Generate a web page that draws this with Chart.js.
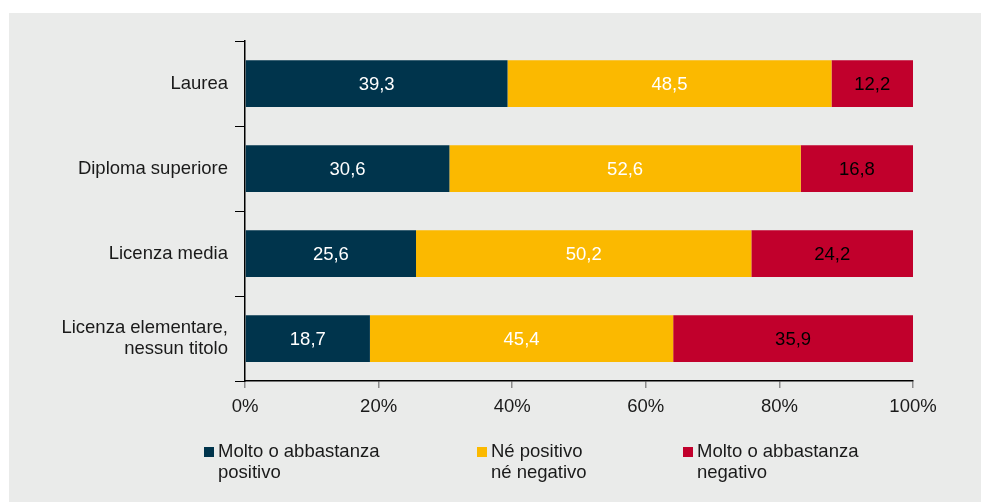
<!DOCTYPE html>
<html>
<head>
<meta charset="utf-8">
<script src="https://cdn.jsdelivr.net/npm/chart.js@4/dist/chart.umd.min.js"></script>
<style>
  html, body { margin: 0; padding: 0; background: #ffffff; }
  #wrap { position: relative; width: 981px; height: 502px; }
</style>
</head>
<body>
<div id="wrap"><canvas id="c" width="981" height="502"></canvas></div>
<script>
// Titolo di studio (categorie, dall'alto in basso)
const categories = [
  'Laurea',
  'Diploma superiore',
  'Licenza media',
  ['Licenza elementare,', 'nessun titolo']
];

// Giudizio, valori percentuali
const positivo = [39.3, 30.6, 25.6, 18.7];
const neutro   = [48.5, 52.6, 50.2, 45.4];
const negativo = [12.2, 16.8, 24.2, 35.9];

// Voci di legenda (su due righe)
const legendLabels = [
  ['Molto o abbastanza', 'positivo'],
  ['Né positivo', 'né negativo'],
  ['Molto o abbastanza', 'negativo']
];

const xTicks = [0, 20, 40, 60, 80, 100];

const colors = ['#00344c', '#fbb900', '#c1002c'];
const labelColors = ['#ffffff', '#ffffff', '#000000'];
const FONT = '"Liberation Sans", Arial, sans-serif';
const FS = 18.5;

// Sfondo grigio del riquadro
const panelBg = {
  id: 'panelBg',
  beforeDraw(chart) {
    const ctx = chart.ctx;
    ctx.save();
    ctx.fillStyle = '#eaebea';
    ctx.fillRect(9, 13, chart.width - 9, chart.height - 13);
    ctx.restore();
  }
};

// Valori scritti al centro di ogni segmento
const barValues = {
  id: 'barValues',
  afterDatasetsDraw(chart) {
    const ctx = chart.ctx;
    ctx.save();
    ctx.font = FS + 'px ' + FONT;
    ctx.textAlign = 'center';
    ctx.textBaseline = 'middle';
    chart.data.datasets.forEach((ds, di) => {
      const meta = chart.getDatasetMeta(di);
      meta.data.forEach((bar, i) => {
        const v = ds.data[i];
        const cx = (bar.x + bar.base) / 2;
        ctx.fillStyle = labelColors[di];
        ctx.fillText(v.toFixed(1).replace('.', ','), cx, bar.y + 1);
      });
    });
    ctx.restore();
  }
};

// Legenda in basso con etichette su due righe
const bottomLegend = {
  id: 'bottomLegend',
  afterDraw(chart) {
    const ctx = chart.ctx;
    const xs = [204, 477, 683];
    const y0 = 452;
    ctx.save();
    ctx.font = FS + 'px ' + FONT;
    ctx.textAlign = 'left';
    ctx.textBaseline = 'middle';
    chart.data.datasets.forEach((ds, di) => {
      const x = xs[di];
      ctx.fillStyle = ds.backgroundColor;
      ctx.fillRect(x, y0 - 5, 10, 10);
      ctx.fillStyle = '#1a1a1a';
      const lines = Array.isArray(ds.label) ? ds.label : [ds.label];
      lines.forEach((ln, k) => ctx.fillText(ln, x + 14, y0 + k * 21));
    });
    ctx.restore();
  }
};

const seriesValues = [positivo, neutro, negativo];

new Chart(document.getElementById('c'), {
  type: 'bar',
  data: {
    labels: categories,
    datasets: seriesValues.map((vals, i) => ({
      label: legendLabels[i],
      data: vals,
      backgroundColor: colors[i],
      borderWidth: 0,
      barPercentage: 0.55,
      categoryPercentage: 1.0
    }))
  },
  options: {
    indexAxis: 'y',
    responsive: false,
    animation: false,
    devicePixelRatio: 1,
    layout: { padding: { left: 0, top: 41, right: 68, bottom: 81 } },
    plugins: {
      legend: { display: false },
      tooltip: { enabled: false },
      title: { display: false }
    },
    scales: {
      x: {
        stacked: true,
        min: 0,
        max: 100,
        afterFit(scale) { scale.height = 40; },
        afterBuildTicks(scale) { scale.ticks = xTicks.map(v => ({ value: v })); },
        border: { display: true, color: '#000000', width: 1.5 },
        grid: { drawOnChartArea: false, drawTicks: true, tickLength: 7, color: '#8c8c8c', lineWidth: 1.5 },
        ticks: {
          padding: 8,
          color: '#1a1a1a',
          font: { family: FONT, size: FS },
          callback: v => v + '%'
        }
      },
      y: {
        stacked: true,
        afterFit(scale) { scale.width = 245; },
        border: { display: true, color: '#000000', width: 1.5 },
        grid: { drawOnChartArea: false, drawTicks: true, tickLength: 10, color: '#000000', lineWidth: 1, offset: true },
        ticks: {
          padding: 7,
          color: '#1a1a1a',
          font: { family: FONT, size: FS, lineHeight: 1.15 }
        }
      }
    }
  },
  plugins: [panelBg, barValues, bottomLegend]
});
</script>
</body>
</html>
